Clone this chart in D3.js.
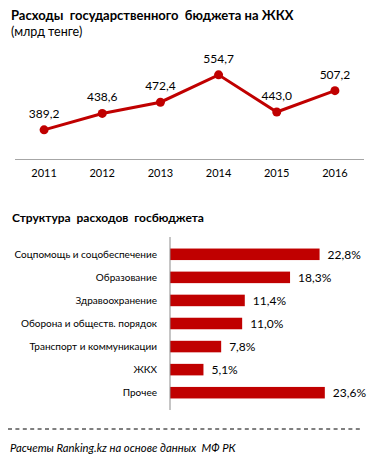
<!DOCTYPE html>
<html>
<head>
<meta charset="utf-8">
<script src="https://cdn.jsdelivr.net/npm/d3@7"></script>
<style>
  body { margin: 0; background: #fff; }
  text { font-family: Lato, "Open Sans", sans-serif; fill: #000; white-space: pre; }
</style>
</head>
<body>
<div id="chart"></div>
<script>
// данные
const years = ['2011', '2012', '2013', '2014', '2015', '2016'];
const spending = [389.2, 438.6, 472.4, 554.7, 443.0, 507.2];

const categories = ['Соцпомощь и соцобеспечение', 'Образование', 'Здравоохранение',
  'Оборона и обществ. порядок', 'Транспорт и коммуникации', 'ЖКХ', 'Прочее'];
const shares = [22.8, 18.3, 11.4, 11.0, 7.8, 5.1, 23.6];

const width = 379;
const height = 465;
const red = '#C00000';
const fmt = v => d3.format('.1f')(v).replace('.', ',');

const svg = d3.select('#chart')
  .append('svg')
  .attr('width', width)
  .attr('height', height);

// заголовки
svg.append('text').attr('x', 11).attr('y', 20)
  .style('font-size', '13px').style('font-weight', 'bold')
  .text('Расходы  государственного  бюджета на ЖКХ');
svg.append('text').attr('x', 11).attr('y', 36)
  .style('font-size', '12.5px')
  .text('(млрд тенге)');

// линейный график
const x = d3.scaleBand()
  .domain(years)
  .range([15, 364]);

const y = d3.scaleLinear()
  .domain([300, 600])
  .range([159.5, 59.8]);

svg.append('line')
  .attr('x1', 15).attr('x2', 364)
  .attr('y1', y(300)).attr('y2', y(300))
  .attr('stroke', '#a6a6a6').attr('stroke-width', 1);

svg.append('g')
  .selectAll('text')
  .data(years)
  .join('text')
  .attr('x', d => x(d) + x.bandwidth() / 2)
  .attr('y', 177)
  .attr('text-anchor', 'middle')
  .style('font-size', '11px')
  .text(d => d);

const line = d3.line()
  .x((d, i) => x(years[i]) + x.bandwidth() / 2)
  .y(d => y(d));

svg.append('path')
  .datum(spending)
  .attr('d', line)
  .attr('fill', 'none')
  .attr('stroke', red)
  .attr('stroke-width', 3);

svg.append('g')
  .selectAll('circle')
  .data(spending)
  .join('circle')
  .attr('cx', (d, i) => x(years[i]) + x.bandwidth() / 2)
  .attr('cy', d => y(d))
  .attr('r', 4.5)
  .attr('fill', red);

svg.append('g')
  .selectAll('text')
  .data(spending)
  .join('text')
  .attr('x', (d, i) => x(years[i]) + x.bandwidth() / 2)
  .attr('y', d => y(d) - 12)
  .attr('text-anchor', 'middle')
  .style('font-size', '12px')
  .text(d => fmt(d));

// структура расходов
svg.append('text').attr('x', 12).attr('y', 221.5)
  .style('font-size', '12px').style('font-weight', 'bold')
  .text('Структура  расходов  госбюджета');

const yb = d3.scaleBand()
  .domain(categories)
  .range([237, 410])
  .padding(0.5);

const xb = d3.scaleLinear()
  .domain([0, 25])
  .range([170, 334]);

svg.append('g')
  .selectAll('rect')
  .data(shares)
  .join('rect')
  .attr('x', xb(0))
  .attr('y', (d, i) => yb(categories[i]))
  .attr('width', d => xb(d) - xb(0))
  .attr('height', yb.bandwidth())
  .attr('fill', red);

svg.append('line')
  .attr('x1', xb(0)).attr('x2', xb(0))
  .attr('y1', 237).attr('y2', 410)
  .attr('stroke', '#8c8c8c').attr('stroke-width', 1);

svg.append('g')
  .selectAll('text')
  .data(categories)
  .join('text')
  .attr('x', 157)
  .attr('y', d => yb(d) + yb.bandwidth() / 2)
  .attr('dy', '0.35em')
  .attr('text-anchor', 'end')
  .style('font-size', '10px')
  .text(d => d);

svg.append('g')
  .selectAll('text')
  .data(shares)
  .join('text')
  .attr('x', d => xb(d) + 8)
  .attr('y', (d, i) => yb(categories[i]) + yb.bandwidth() / 2)
  .attr('dy', '0.35em')
  .style('font-size', '12px')
  .text(d => fmt(d) + '%');

// подвал
svg.append('line')
  .attr('x1', 8).attr('x2', 363)
  .attr('y1', 429).attr('y2', 429)
  .attr('stroke', '#000').attr('stroke-width', 1)
  .attr('stroke-dasharray', '4,3.4');

svg.append('text').attr('x', 10).attr('y', 452)
  .style('font-size', '11.3px').style('font-style', 'italic')
  .text('Расчеты Ranking.kz на основе данных  МФ РК');
</script>
</body>
</html>
